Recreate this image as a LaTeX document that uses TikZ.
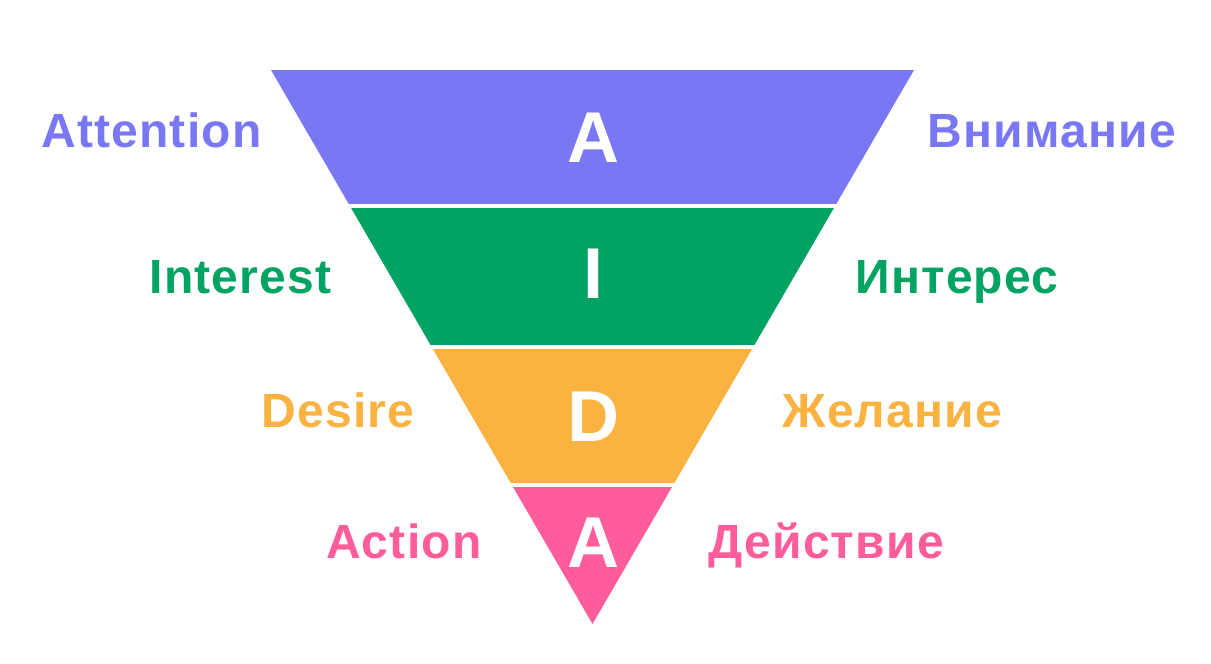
\documentclass[tikz,border=0pt]{standalone}
\usepackage{fontspec}
\setmainfont{Liberation Sans}
\newfontfamily\sidefont[LetterSpace=2.5]{Liberation Sans}
\tikzset{every picture/.style={line width=0.75pt}}
\tikzset{
  letter/.style={anchor=base, inner sep=0.75pt, text=white, font=\bfseries\fontsize{54}{54}\selectfont},
  side/.style={inner sep=0.75pt, font=\sidefont\bfseries\fontsize{36}{36}\selectfont}
}
\definecolor{attn}{RGB}{122,119,245}
\definecolor{intr}{RGB}{0,163,98}
\definecolor{desr}{RGB}{250,178,64}
\definecolor{actn}{RGB}{255,92,155}

\begin{document}
\begin{tikzpicture}[x=0.75pt,y=0.75pt,yscale=-1,xscale=1]
\useasboundingbox (0,0) rectangle (1211,664);

% funnel corners
\coordinate (tl) at (271,70);
\coordinate (tr) at (914,70);
\coordinate (ap) at (592.5,624);

% Shape: funnel bands, cut by the triangle
\begin{scope}
\clip (tl) -- (tr) -- (ap) -- cycle;
\foreach \ya/\yb/\col in {70/203.5/attn, 207.5/345/intr, 349/483/desr, 487/624/actn}
  \fill [\col] (250,\ya) rectangle (940,\yb);
\end{scope}

% Text Node: letters
\node (lA) [letter] at (593,162) {A};
\node (lI) [letter] at (593,298) {I};
\node (lD) [letter] at (593,441) {D};
\node (lA2) [letter] at (593,567) {A};

% Text Node: left labels
\node (attnL) [side, anchor=base east, text=attn] at (263,147) {Attention};
\node (intrL) [side, anchor=base east, text=intr] at (333,293) {Interest};
\node (desrL) [side, anchor=base east, text=desr] at (416,427) {Desire};
\node (actnL) [side, anchor=base east, text=actn] at (483,558) {Action};

% Text Node: right labels
\node (attnR) [side, anchor=base west, text=attn] at (926,147) {Внимание};
\node (intrR) [side, anchor=base west, text=intr] at (854,293) {Интерес};
\node (desrR) [side, anchor=base west, text=desr] at (781,427) {Желание};
\node (actnR) [side, anchor=base west, text=actn] at (707,558) {Действие};

\end{tikzpicture}
\end{document}
